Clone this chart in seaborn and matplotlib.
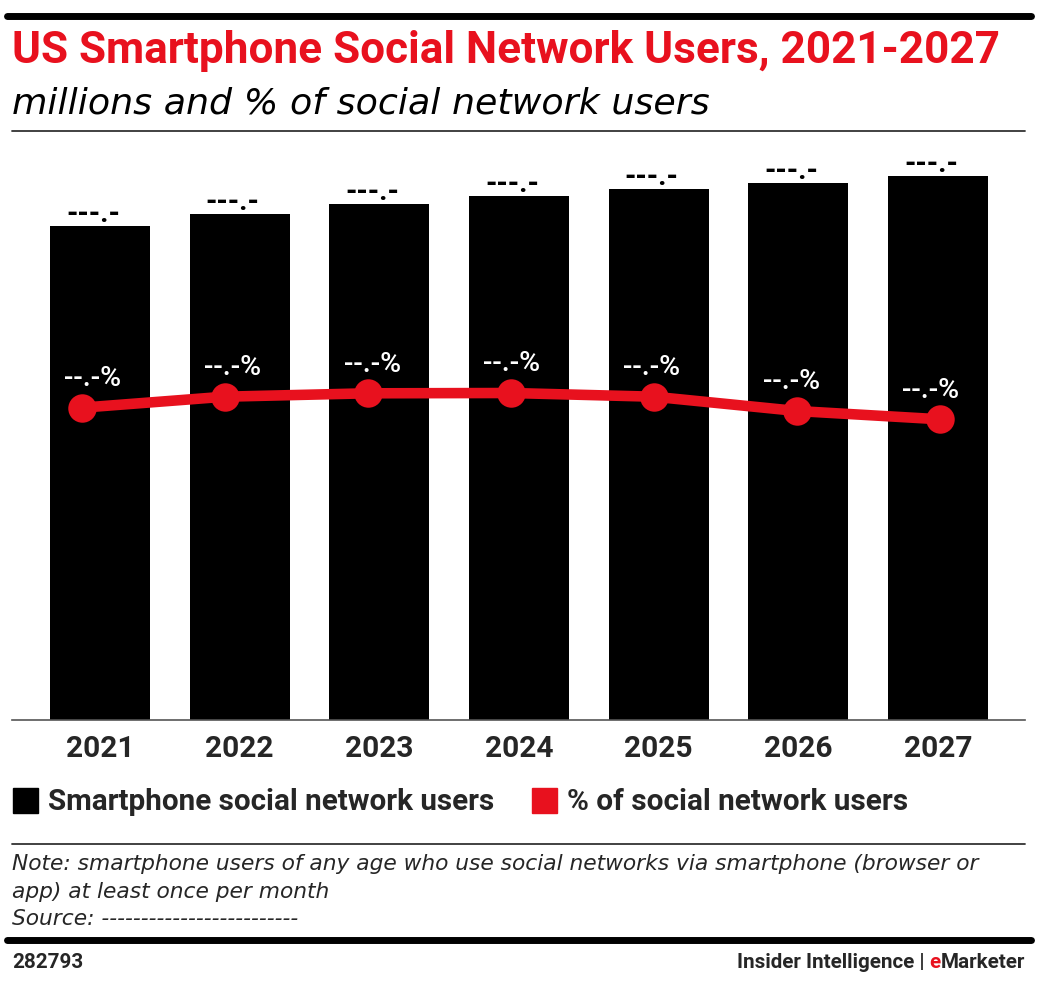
import matplotlib
matplotlib.use("Agg")
import matplotlib.pyplot as plt
import matplotlib.transforms as mtrans
from matplotlib.lines import Line2D
from matplotlib.patches import Rectangle
import seaborn as sns
import pandas as pd

# ---- data ----
years = ["2021", "2022", "2023", "2024", "2025", "2026", "2027"]
users_millions = [197.6, 202.4, 206.4, 209.6, 212.4, 214.8, 217.6]
pct_of_social_users = [88.53, 89.63, 89.97, 90.0, 89.63, 88.2, 87.37]
bar_labels = ["---.-"] * 7
pct_labels = ["--.-%"] * 7

title = "US Smartphone Social Network Users, 2021-2027"
subtitle = "millions and % of social network users"
legend_labels = ["Smartphone social network users", "% of social network users"]
note_lines = [
    "Note: smartphone users of any age who use social networks via smartphone (browser or",
    "app) at least once per month",
    "Source: -------------------------",
]
chart_id = "282793"
brand_left = "Insider Intelligence | "
brand_e = "e"
brand_rest = "Marketer"

RED = "#E8111E"
FONT = "Roboto"
IFONT = "DejaVu Sans"

sns.set_theme(style="white")
plt.rcParams["font.family"] = [FONT, "DejaVu Sans"]

W, H = 1038, 986
fig = plt.figure(figsize=(W / 100, H / 100), dpi=100)
renderer = fig.canvas.get_renderer()


def fx(px):
    return px / W


def fy(py):
    return 1 - py / H


def fit_text(x0, x1, base, s, ha="left", **kw):
    """Place text at baseline pixel `base`, scaled so it spans x0..x1 pixels."""
    t = fig.text(fx(x0 if ha == "left" else x1), fy(base), s, fontsize=20, va="baseline", ha=ha, **kw)
    w = t.get_window_extent(renderer).width
    t.set_fontsize(20 * (x1 - x0) / w)
    return t


# ---- bars ----
ax = fig.add_axes([fx(12), fy(720), fx(1025) - fx(12), (720 - 140) / H])
df = pd.DataFrame({"year": years, "users": users_millions, "pct": pct_of_social_users})
sns.barplot(data=df, x="year", y="users", color="black", saturation=1, width=0.716, ax=ax)
for p in ax.patches:
    p.set_edgecolor("none")
ax.set_xlim(-0.63, 6.623)
ax.set_ylim(0, 232)
for i, (v, lab) in enumerate(zip(users_millions, bar_labels)):
    ax.annotate(lab, (i, v), xytext=(-5, 3), textcoords="offset points", ha="center", va="baseline",
                fontsize=21, fontweight="bold", color="black")
for s in ["top", "left", "right"]:
    ax.spines[s].set_visible(False)
ax.spines["bottom"].set_color("#555555")
ax.spines["bottom"].set_linewidth(1.2)
ax.set_yticks([])
ax.set_xlabel("")
ax.set_ylabel("")
ax.tick_params(axis="x", length=0, pad=11, labelsize=21.5)
for t in ax.get_xticklabels():
    t.set_fontweight("bold")

# ---- line (overlay axes) ----
ax2 = fig.add_axes(ax.get_position(), frameon=False)
ax2.set_xlim(-0.487, 6.594)
ax2.set_ylim(57.3, 115.3)
sns.lineplot(x=list(range(len(years))), y=pct_of_social_users, ax=ax2, color=RED,
             linewidth=7.6, marker="o", markersize=20.5, markeredgewidth=0, zorder=5)
ax2.set_xticks([])
ax2.set_yticks([])
ax2.set_xlabel("")
ax2.set_ylabel("")
blend = mtrans.blended_transform_factory(ax.transData, ax2.transData)
for i, (v, lab) in enumerate(zip(pct_of_social_users, pct_labels)):
    ax2.annotate(lab, (i, v), xycoords=blend, xytext=(-5, 15.5), textcoords="offset points",
                 ha="center", va="baseline", fontsize=20.5, fontweight="medium", color="white", zorder=6)

# ---- header ----
fig.add_artist(Line2D([fx(7), fx(1031)], [fy(16), fy(16)], color="black", linewidth=5))
fit_text(12, 998, 63, title, color=RED, fontweight="bold")
fit_text(12, 710, 113, subtitle, color="black", fontstyle="italic", family=IFONT)
fig.add_artist(Line2D([fx(12), fx(1025)], [fy(131), fy(131)], color="#333333", linewidth=1.3))

# ---- legend ----
fig.add_artist(Rectangle((fx(13), fy(813)), fx(25), (813 - 788) / H, color="black", transform=fig.transFigure))
fit_text(48, 493, 810, legend_labels[0], fontweight="bold")
fig.add_artist(Rectangle((fx(532), fy(813)), fx(25), (813 - 788) / H, color=RED, transform=fig.transFigure))
fit_text(567, 907, 810, legend_labels[1], fontweight="bold")

# ---- footer ----
fig.add_artist(Line2D([fx(12), fx(1025)], [fy(844), fy(844)], color="#333333", linewidth=1.3))
nt = fit_text(12, 982, 870, note_lines[0], fontstyle="italic", family=IFONT)
nsize = nt.get_fontsize()
for k, line in enumerate(note_lines[1:], start=1):
    fig.text(fx(12), fy(870 + 27.5 * k), line, fontsize=nsize, fontstyle="italic", family=IFONT, va="baseline")
fig.add_artist(Line2D([fx(7), fx(1031)], [fy(940), fy(940)], color="black", linewidth=5))
fit_text(12, 83, 968, chart_id, fontweight="bold")

full = fit_text(737, 1025, 968, brand_left + brand_e + brand_rest, ha="right", fontweight="bold")
bsize = full.get_fontsize()
full.remove()
t_rest = fig.text(fx(1025), fy(968), brand_rest, fontsize=bsize, fontweight="bold", va="baseline", ha="right")
x_rest = t_rest.get_window_extent(renderer).x0
t_e = fig.text(x_rest / W, fy(968), brand_e, fontsize=bsize, fontweight="bold", va="baseline", ha="right", color=RED)
x_e = t_e.get_window_extent(renderer).x0
fig.text(x_e / W, fy(968), brand_left, fontsize=bsize, fontweight="bold", va="baseline", ha="right")

fig.savefig("out.png", dpi=100)
